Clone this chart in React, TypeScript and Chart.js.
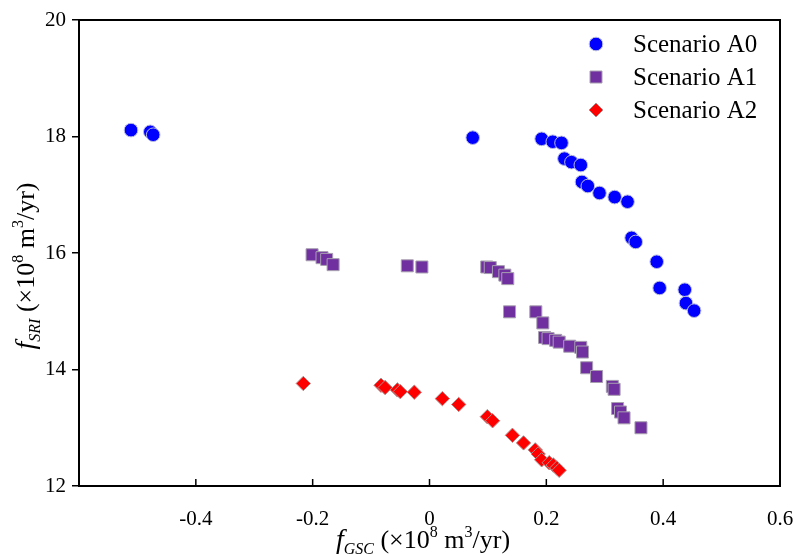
import React, { useEffect, useRef } from 'react';
import { Chart, registerables } from 'chart.js';

Chart.register(...registerables);

// ---- Data ----
const seriesNames = ['Scenario A0', 'Scenario A1', 'Scenario A2'];

const xA0 = [-0.511, -0.478, -0.473, 0.074, 0.192, 0.211, 0.226, 0.231, 0.243, 0.259, 0.261, 0.271, 0.291, 0.317, 0.339, 0.346, 0.353, 0.389, 0.394, 0.437, 0.439, 0.453];
const yA0 = [18.11, 18.08, 18.03, 17.98, 17.96, 17.91, 17.89, 17.62, 17.56, 17.51, 17.22, 17.15, 17.03, 16.96, 16.88, 16.26, 16.19, 15.85, 15.40, 15.37, 15.14, 15.01];

const xA1 = [-0.201, -0.184, -0.176, -0.165, -0.038, -0.013, 0.098, 0.104, 0.118, 0.129, 0.134, 0.137, 0.182, 0.194, 0.197, 0.203, 0.216, 0.222, 0.240, 0.259, 0.262, 0.269, 0.286, 0.313, 0.316, 0.322, 0.327, 0.333, 0.362];
const yA1 = [15.97, 15.92, 15.89, 15.80, 15.78, 15.76, 15.76, 15.75, 15.68, 15.62, 15.56, 14.99, 14.99, 14.80, 14.55, 14.53, 14.50, 14.47, 14.40, 14.38, 14.30, 14.03, 13.88, 13.71, 13.66, 13.33, 13.27, 13.17, 13.00];

const xA2 = [-0.216, -0.083, -0.076, -0.055, -0.050, -0.026, 0.022, 0.050, 0.099, 0.108, 0.142, 0.161, 0.181, 0.186, 0.192, 0.205, 0.212, 0.218, 0.222];
const yA2 = [13.76, 13.73, 13.69, 13.65, 13.62, 13.61, 13.50, 13.40, 13.19, 13.12, 12.87, 12.74, 12.62, 12.55, 12.45, 12.40, 12.36, 12.31, 12.27];

const xMin = -0.6;
const xMax = 0.6;
const xStep = 0.2;
const yMin = 12;
const yMax = 20;
const yStep = 2;

const SERIF = '"Liberation Serif", "Times New Roman", serif';

const colorsFill = ['#0000ff', '#7030a0', '#ff0000'];
const colorsBorder = ['#b8bce0', '#a8a0b0', '#b09090'];
const styles: any[] = ['circle', 'rect', 'rectRot'];
const radii = [6.8, 8.5, 7.2];

type Part = { t: string; size: number; italic?: boolean; dy?: number };

function drawRich(ctx: CanvasRenderingContext2D, parts: Part[], cx: number, by: number) {
  const font = (p: Part) => `${p.italic ? 'italic ' : ''}${p.size}px ${SERIF}`;
  let total = 0;
  for (const p of parts) {
    ctx.font = font(p);
    total += ctx.measureText(p.t).width;
  }
  let x = cx - total / 2;
  ctx.textAlign = 'left';
  ctx.textBaseline = 'alphabetic';
  ctx.fillStyle = '#000';
  for (const p of parts) {
    ctx.font = font(p);
    ctx.fillText(p.t, x, by + (p.dy || 0));
    x += ctx.measureText(p.t).width;
  }
}

function titleParts(sub: string): Part[] {
  return [
    { t: 'f', size: 28, italic: true },
    { t: sub, size: 16, italic: true, dy: 6 },
    { t: ' (\u00d710', size: 26 },
    { t: '8', size: 16, dy: -11 },
    { t: ' m', size: 26 },
    { t: '3', size: 16, dy: -11 },
    { t: '/yr)', size: 26 },
  ];
}

const decorPlugin = {
  id: 'decor',
  afterDraw(chart: any) {
    const ctx: CanvasRenderingContext2D = chart.ctx;
    const a = chart.chartArea;
    const xs = chart.scales.x;
    ctx.save();
    // frame
    ctx.strokeStyle = '#000';
    ctx.lineWidth = 2;
    ctx.strokeRect(a.left, a.top, a.right - a.left, a.bottom - a.top);
    // inward x ticks
    ctx.lineWidth = 1.5;
    ctx.beginPath();
    for (const t of xs.ticks) {
      const px = xs.getPixelForValue(t.value);
      ctx.moveTo(px, a.bottom);
      ctx.lineTo(px, a.bottom - 7);
    }
    ctx.stroke();

    // axis titles
    drawRich(ctx, titleParts('GSC'), 423, 548);
    ctx.save();
    ctx.translate(34, 266);
    ctx.rotate(-Math.PI / 2);
    drawRich(ctx, titleParts('SRI'), 0, 0);
    ctx.restore();

    // legend
    const rows = [44, 77, 110];
    for (let i = 0; i < 3; i++) {
      const cx = 596;
      const cy = rows[i];
      ctx.fillStyle = colorsFill[i];
      ctx.strokeStyle = colorsBorder[i];
      ctx.lineWidth = 1;
      ctx.beginPath();
      if (i === 0) {
        ctx.arc(cx, cy, 6.8, 0, Math.PI * 2);
      } else if (i === 1) {
        ctx.rect(cx - 6, cy - 6, 12, 12);
      } else {
        ctx.moveTo(cx - 7, cy);
        ctx.lineTo(cx, cy - 7);
        ctx.lineTo(cx + 7, cy);
        ctx.lineTo(cx, cy + 7);
        ctx.closePath();
      }
      ctx.fill();
      ctx.stroke();
      ctx.fillStyle = '#000';
      ctx.font = `25px ${SERIF}`;
      ctx.textAlign = 'left';
      ctx.textBaseline = 'middle';
      ctx.fillText(seriesNames[i], 633, cy + 1);
    }
    ctx.restore();
  },
};

export default function App() {
  const ref = useRef<HTMLCanvasElement | null>(null);

  useEffect(() => {
    if (!ref.current) return;
    const mk = (xs: number[], ys: number[]) => xs.map((x, i) => ({ x, y: ys[i] }));
    const allX = [xA0, xA1, xA2];
    const allY = [yA0, yA1, yA2];
    const chart = new Chart(ref.current, {
      type: 'scatter',
      data: {
        datasets: seriesNames.map((name, i) => ({
          label: name,
          data: mk(allX[i], allY[i]),
          pointStyle: styles[i],
          pointRadius: radii[i],
          pointHoverRadius: radii[i],
          backgroundColor: colorsFill[i],
          borderColor: colorsBorder[i],
          borderWidth: 1,
          showLine: false,
        })),
      },
      options: {
        animation: false,
        responsive: false,
        maintainAspectRatio: false,
        devicePixelRatio: 1,
        layout: { padding: { top: 20, right: 16, left: 0, bottom: 0 } },
        plugins: {
          legend: { display: false },
          tooltip: { enabled: false },
        },
        scales: {
          x: {
            type: 'linear',
            min: xMin,
            max: xMax,
            afterFit(scale: any) {
              scale.height = 70;
              scale.paddingLeft = 0;
              scale.paddingRight = 0;
            },
            ticks: {
              stepSize: xStep,
              padding: 21,
              maxRotation: 0,
              autoSkip: false,
              color: '#000',
              font: { family: SERIF, size: 21 },
              callback: (v: any) => {
                const n = Math.round(Number(v) * 10) / 10;
                if (Math.abs(n - xMin) < 1e-9) return '';
                return String(n);
              },
            },
            grid: { display: true, drawOnChartArea: false, drawTicks: false },
            border: { display: true, color: '#000', width: 2 },
          },
          y: {
            type: 'linear',
            min: yMin,
            max: yMax,
            afterFit(scale: any) {
              scale.width = 79;
              scale.paddingTop = 0;
              scale.paddingBottom = 0;
            },
            ticks: {
              stepSize: yStep,
              padding: 6,
              color: '#000',
              font: { family: SERIF, size: 21 },
            },
            grid: { display: true, drawOnChartArea: false, drawTicks: true, tickLength: 7, color: '#000', lineWidth: 1.5 },
            border: { display: true, color: '#000', width: 2 },
          },
        },
      },
      plugins: [decorPlugin],
    });
    return () => chart.destroy();
  }, []);

  return (
    <div style={{ position: 'fixed', left: 0, top: 0, width: 796, height: 556, background: '#fff' }}>
      <canvas ref={ref} width={796} height={556} style={{ width: 796, height: 556, display: 'block' }} />
    </div>
  );
}
